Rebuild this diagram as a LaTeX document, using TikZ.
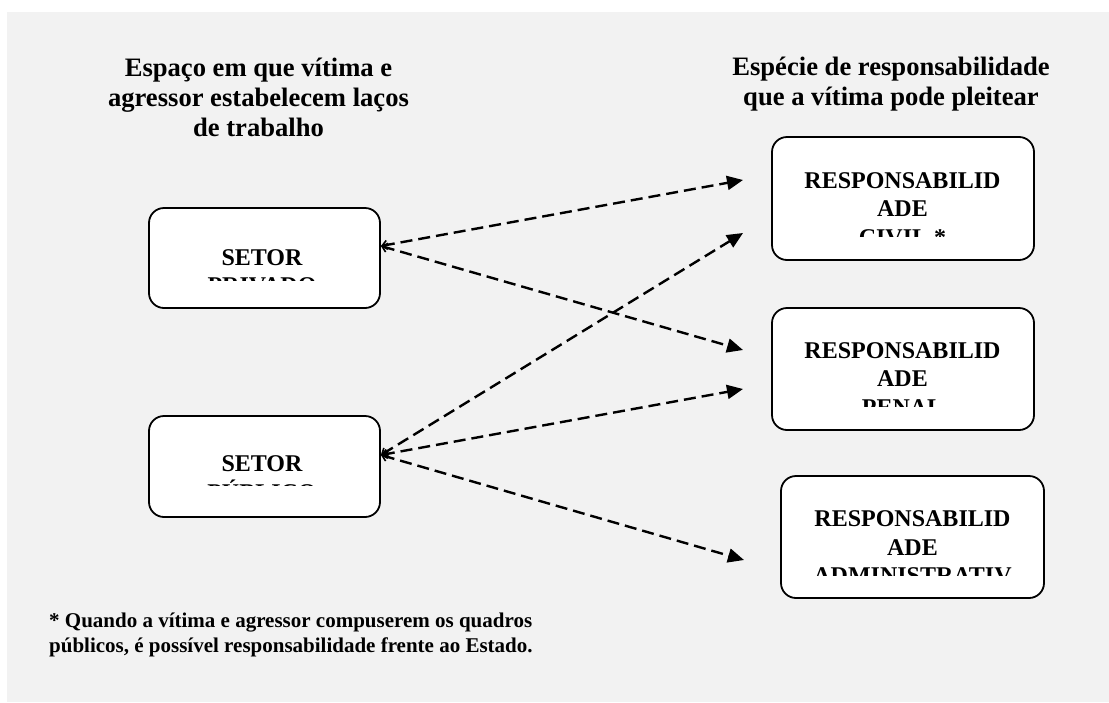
\documentclass[tikz,border=0pt]{standalone}
\usepackage{fontspec}
\setmainfont{Liberation Serif}
\usetikzlibrary{arrows.meta}
\definecolor{bggray}{HTML}{F2F2F2}
\setlength{\tabcolsep}{0pt}
\begin{document}
\begin{tikzpicture}[x=1pt,y=-1pt,
  box/.style={draw, line width=1.8pt, rounded corners=15pt, fill=white, inner sep=0pt},
  boxtxt/.style={anchor=base, inner sep=0pt, font=\fontsize{24}{28.6}\selectfont\bfseries},
  hdr/.style={anchor=base, inner sep=0pt, font=\fontsize{26.6}{30}\selectfont\bfseries},
  note/.style={anchor=base west, inner sep=0pt, font=\fontsize{21}{25}\selectfont\bfseries},
  link/.style={line width=2.4pt, dash pattern=on 12pt off 6pt,
    arrows={Straight Barb[length=5pt,width=9pt,line width=1.6pt]-Triangle[length=16pt,width=14pt]}}]
\useasboundingbox (0,0) rectangle (1109,702);
\fill[white] (0,0) rectangle (1109,702);
\fill[bggray] (7,12) rectangle (1109,702);

% headers
\node[hdr] (hleft) at (258.5,76) {\begin{tabular}[t]{c}Espaço em que vítima e\\agressor estabelecem laços\\de trabalho\end{tabular}};
\node[hdr] (hright) at (891,75) {\begin{tabular}[t]{c}Espécie de responsabilidade\\que a vítima pode pleitear\end{tabular}};

% boxes
\node[box, minimum width=231pt, minimum height=100pt] (priv) at (264.5,258) {};
\node[box, minimum width=231pt, minimum height=101pt] (pub) at (264.5,466.5) {};
\node[box, minimum width=262pt, minimum height=123pt] (civil) at (903,198.5) {};
\node[box, minimum width=262pt, minimum height=122pt] (penal) at (903,369) {};
\node[box, minimum width=263pt, minimum height=122pt] (adm) at (912.5,537) {};

% clipped box texts
\begin{scope}
  \clip (149,208) rectangle (380,280);
  \node[boxtxt] (privtxt) at (262,265) {\begin{tabular}[t]{c}SETOR\\PRIVADO\end{tabular}};
\end{scope}
\begin{scope}
  \clip (149,416) rectangle (380,485);
  \node[boxtxt] (pubtxt) at (262,471) {\begin{tabular}[t]{c}SETOR\\PÚBLICO\end{tabular}};
\end{scope}
\begin{scope}
  \clip (772,137) rectangle (1034,236);
  \node[boxtxt] (civiltxt) at (902.5,188) {\begin{tabular}[t]{c}RESPONSABILID\\ADE\\CIVIL *\end{tabular}};
\end{scope}
\begin{scope}
  \clip (772,308) rectangle (1034,406);
  \node[boxtxt] (penaltxt) at (902.5,358) {\begin{tabular}[t]{c}RESPONSABILID\\ADE\\PENAL\end{tabular}};
\end{scope}
\begin{scope}
  \clip (781,476) rectangle (1044,575);
  \node[boxtxt] (admtxt) at (912.5,526.5) {\begin{tabular}[t]{c}RESPONSABILID\\ADE\\ADMINISTRATIV\end{tabular}};
\end{scope}

% arrow ends
\coordinate (e1) at (743,180);
\coordinate (e2) at (743,233);
\coordinate (e3) at (743,350);
\coordinate (e4) at (743,389);
\coordinate (e5) at (744,560);

\draw[link] ([yshift=12pt]priv.east) -- (e1);
\draw[link] ([yshift=12pt]priv.east) -- (e3);
\draw[link] ([yshift=11.5pt]pub.east) -- (e2);
\draw[link] ([yshift=11.5pt]pub.east) -- (e4);
\draw[link] ([yshift=11.5pt]pub.east) -- (e5);

% footnote
\node[note] (fn) at (49,627) {\begin{tabular}[t]{l}* Quando a vítima e agressor compuserem os quadros\\públicos, é possível responsabilidade frente ao Estado.\end{tabular}};
\end{tikzpicture}
\end{document}
